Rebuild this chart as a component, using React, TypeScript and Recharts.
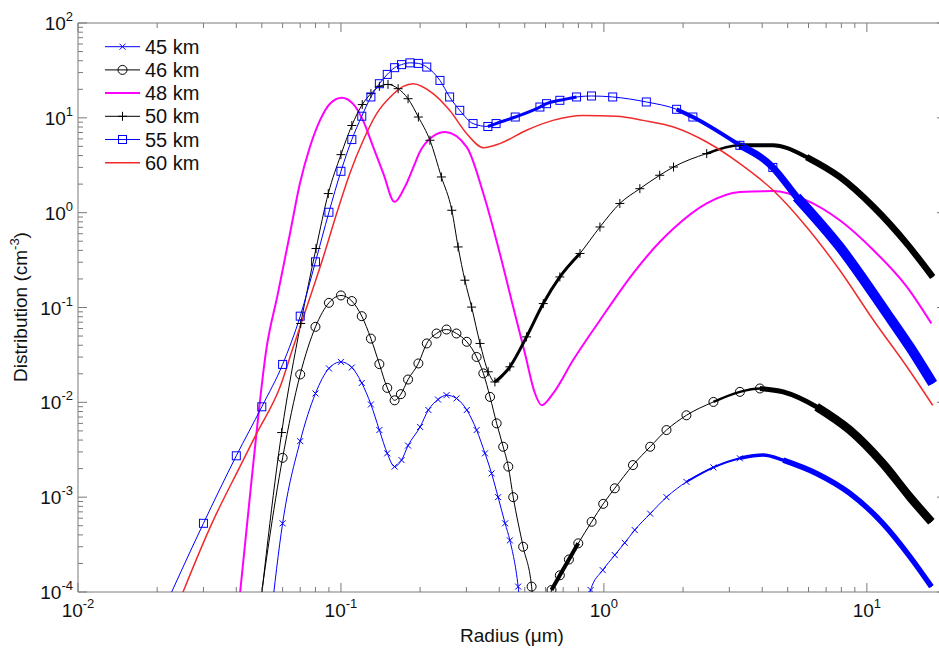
import React from 'react'
import { LineChart, Line, XAxis, YAxis, ReferenceArea, Legend, Label } from 'recharts'

// radius (um) / distribution (cm^-3), one pair of arrays per altitude
const R_45 = [0.054, 0.06, 0.07, 0.08, 0.09, 0.1, 0.11, 0.12, 0.13, 0.14, 0.15, 0.16, 0.17, 0.18, 0.2, 0.215, 0.234, 0.252, 0.275, 0.301, 0.328, 0.353, 0.374, 0.396, 0.421, 0.439, 0.472, 0.49, 0.85, 0.89, 0.99, 1.1, 1.2, 1.31, 1.5, 1.73, 2.06, 2.61, 3.29, 4.03, 4.81, 6.44, 8.61, 11.5, 14.6, 17.6]
const V_45 = [5e-5, 5.3e-4, 3.9e-3, 0.0124, 0.0228, 0.0267, 0.0233, 0.016, 9.5e-3, 5.1e-3, 2.9e-3, 2.1e-3, 2.46e-3, 3.5e-3, 5.5e-3, 8.3e-3, 0.0107, 0.0119, 0.011, 8.3e-3, 5.1e-3, 2.9e-3, 1.78e-3, 1.0e-3, 5.3e-4, 3.5e-4, 1.14e-4, 4e-5, 5e-5, 1.05e-4, 1.7e-4, 2.45e-4, 3.3e-4, 4.5e-4, 6.7e-4, 1.0e-3, 1.45e-3, 2.06e-3, 2.57e-3, 2.78e-3, 2.46e-3, 1.78e-3, 1.1e-3, 5.3e-4, 2.35e-4, 1.14e-4]

const R_46 = [0.047, 0.06, 0.07, 0.08, 0.09, 0.1, 0.11, 0.12, 0.13, 0.14, 0.15, 0.16, 0.169, 0.18, 0.197, 0.212, 0.231, 0.252, 0.275, 0.301, 0.328, 0.348, 0.369, 0.391, 0.414, 0.433, 0.452, 0.493, 0.531, 0.56, 0.6, 0.632, 0.68, 0.736, 0.799, 0.898, 0.994, 1.1, 1.29, 1.5, 1.73, 2.06, 2.61, 3.29, 3.92, 4.81, 6.44, 8.61, 11.5, 14.6, 17.6]
const V_46 = [3e-5, 2.6e-3, 0.0197, 0.0625, 0.112, 0.134, 0.117, 0.081, 0.047, 0.0253, 0.0142, 0.0105, 0.0122, 0.0174, 0.0257, 0.0418, 0.0532, 0.0586, 0.0532, 0.0435, 0.0301, 0.0202, 0.0114, 0.006, 0.0034, 0.0021, 0.001, 3e-4, 1.14e-4, 2e-5, 2e-5, 1.05e-4, 1.5e-4, 2.2e-4, 3.26e-4, 5.5e-4, 8.5e-4, 1.24e-3, 2.18e-3, 3.4e-3, 5.1e-3, 7.3e-3, 0.0101, 0.0129, 0.014, 0.0129, 8.97e-3, 5.1e-3, 2.27e-3, 1.0e-3, 5.5e-4]

const R_48 = [0.039, 0.0457, 0.0522, 0.0574, 0.064, 0.0698, 0.0762, 0.0832, 0.0908, 0.1007, 0.111, 0.1213, 0.1327, 0.145, 0.16, 0.175, 0.191, 0.198, 0.224, 0.249, 0.301, 0.348, 0.402, 0.452, 0.501, 0.547, 0.58, 0.641, 0.764, 0.966, 1.29, 1.63, 1.84, 2.46, 3.29, 4.4, 5.9, 7.89, 10.6, 14.2, 17.6]
const V_48 = [2e-5, 1.5e-3, 0.0385, 0.135, 0.603, 2.03, 4.92, 9.4, 14.1, 16.3, 14.1, 9.4, 4.92, 2.58, 1.3, 1.87, 3.29, 4.2, 6.4, 7.1, 4.92, 1.59, 0.371, 0.101, 0.0327, 0.0124, 9.3e-3, 0.0124, 0.0279, 0.0734, 0.228, 0.49, 0.68, 1.25, 1.65, 1.69, 1.35, 0.832, 0.402, 0.165, 0.0678]

const R_50 = [0.047, 0.0595, 0.0703, 0.0804, 0.0895, 0.1, 0.11, 0.1205, 0.13, 0.14, 0.151, 0.165, 0.18, 0.197, 0.218, 0.241, 0.264, 0.279, 0.296, 0.314, 0.338, 0.363, 0.385, 0.439, 0.508, 0.588, 0.68, 0.811, 0.966, 1.15, 1.37, 1.63, 1.84, 2.46, 3.29, 4.4, 5.9, 7.89, 10.6, 14.2, 17.8]
const V_50 = [2e-5, 4.8e-3, 0.0678, 0.419, 1.59, 4.09, 8.3, 13.8, 18, 21.5, 22.5, 20.3, 15.9, 10.2, 5.8, 2.38, 1.06, 0.435, 0.194, 0.101, 0.0418, 0.021, 0.0164, 0.0237, 0.049, 0.11, 0.21, 0.371, 0.706, 1.25, 1.79, 2.48, 3.03, 4.2, 5.13, 5.13, 3.86, 2.38, 1.15, 0.47, 0.21]

const R_55 = [0.02, 0.03, 0.04, 0.05, 0.06, 0.07, 0.08, 0.09, 0.1, 0.11, 0.12, 0.13, 0.14, 0.15, 0.16, 0.17, 0.183, 0.197, 0.212, 0.238, 0.259, 0.283, 0.318, 0.362, 0.389, 0.46, 0.571, 0.605, 0.68, 0.787, 0.897, 1.08, 1.45, 1.89, 2.18, 3.29, 4.39, 5.41, 7.89, 11.9, 14.6, 17.8]
const V_55 = [4.6e-5, 5.3e-4, 2.73e-3, 8.97e-3, 0.0251, 0.081, 0.303, 1.01, 2.73, 5.9, 10.4, 16.6, 22.9, 28.7, 33.8, 36.4, 38, 37.5, 34.3, 24.8, 16.6, 12, 8.7, 8.1, 8.7, 10.2, 13, 14.1, 15.3, 16.6, 17, 16.6, 14.7, 12.3, 10.2, 5.13, 3.0, 1.46, 0.435, 0.087, 0.038, 0.0158]

const R_60 = [0.022, 0.0327, 0.0413, 0.0478, 0.0587, 0.0659, 0.0741, 0.0857, 0.0963, 0.108, 0.1216, 0.1367, 0.154, 0.1726, 0.188, 0.224, 0.259, 0.301, 0.348, 0.402, 0.508, 0.64, 0.834, 1.12, 1.41, 1.84, 2.46, 3.29, 4.4, 5.9, 7.89, 10.6, 14.2, 17.8]
const V_60 = [4e-5, 5.7e-4, 2.1e-3, 4.7e-3, 0.0146, 0.0385, 0.101, 0.341, 0.98, 2.58, 5.8, 11.1, 16.6, 21.5, 22.9, 18, 12, 6.8, 4.85, 5.35, 7.4, 9.4, 10.6, 10.4, 9.4, 8.0, 5.56, 3.29, 1.72, 0.706, 0.247, 0.0734, 0.0237, 9.3e-3]

const X_MAJOR = [0.01, 0.1, 1, 10]
const X_MAJOR_EXP = ['-2', '-1', '0', '1']
const X_MINOR = [0.02, 0.03, 0.04, 0.05, 0.06, 0.07, 0.08, 0.09, 0.2, 0.3, 0.4, 0.5, 0.6, 0.7, 0.8, 0.9, 2, 3, 4, 5, 6, 7, 8, 9]
const Y_MAJOR = [1e-4, 1e-3, 1e-2, 1e-1, 1, 10, 100]
const Y_MAJOR_EXP = ['-4', '-3', '-2', '-1', '0', '1', '2']
const Y_MINOR = [
  2e-4, 3e-4, 4e-4, 5e-4, 6e-4, 7e-4, 8e-4, 9e-4,
  2e-3, 3e-3, 4e-3, 5e-3, 6e-3, 7e-3, 8e-3, 9e-3,
  0.02, 0.03, 0.04, 0.05, 0.06, 0.07, 0.08, 0.09,
  0.2, 0.3, 0.4, 0.5, 0.6, 0.7, 0.8, 0.9,
  2, 3, 4, 5, 6, 7, 8, 9,
  20, 30, 40, 50, 60, 70, 80, 90,
]

const PLOT_TOP = 23
const PLOT_BOTTOM = 592
const PLOT_LEFT = 78
const PLOT_RIGHT = 946
const AXIS = '#7a7a7a'
const FONT = '"Liberation Sans", Arial, Helvetica, sans-serif'
const BLUE = '#0000ff'
const BLACK = '#000000'
const MAGENTA = '#ff00ff'
const RED = '#f02a2a'

const toPoints = (r: number[], v: number[]) => r.map((x, i) => ({ r: x, v: v[i] }))

type Marker = 'x' | 'o' | '+' | 's' | null
type Band = { from: number; to: number; w: number }

// bands stand in for stretches where the original markers pile up into a solid trace
const SERIES: { name: string; data: { r: number; v: number }[]; color: string; width: number; marker: Marker; markerUntil: number; bands: Band[] }[] = [
  {
    name: '45 km', data: toPoints(R_45, V_45), color: BLUE, width: 1, marker: 'x', markerUntil: 3.5,
    bands: [{ from: 2.0, to: 99, w: 2 }, { from: 3.29, to: 99, w: 3.5 }, { from: 4.8, to: 99, w: 5.5 }],
  },
  {
    name: '46 km', data: toPoints(R_46, V_46), color: BLACK, width: 1, marker: 'o', markerUntil: 4.5,
    bands: [{ from: 0.63, to: 0.8, w: 4 }, { from: 2.6, to: 99, w: 2.5 }, { from: 3.9, to: 99, w: 5 }, { from: 6.4, to: 99, w: 8.5 }],
  },
  { name: '48 km', data: toPoints(R_48, V_48), color: MAGENTA, width: 2, marker: null, markerUntil: 0, bands: [] },
  {
    name: '50 km', data: toPoints(R_50, V_50), color: BLACK, width: 1, marker: '+', markerUntil: 4.4,
    bands: [{ from: 0.385, to: 0.82, w: 3 }, { from: 2.4, to: 99, w: 2.5 }, { from: 3.29, to: 99, w: 4 }, { from: 5.9, to: 99, w: 6.5 }],
  },
  {
    name: '55 km', data: toPoints(R_55, V_55), color: BLUE, width: 1, marker: 's', markerUntil: 5,
    bands: [{ from: 0.36, to: 0.8, w: 3 }, { from: 1.8, to: 99, w: 4 }, { from: 3.2, to: 99, w: 7 }, { from: 5.4, to: 99, w: 10 }],
  },
  { name: '60 km', data: toPoints(R_60, V_60), color: RED, width: 1.5, marker: null, markerUntil: 0, bands: [] },
]

function markerShape(kind: Marker, cx: number, cy: number, color: string, key: string) {
  if (kind === 'x')
    return <path key={key} d={`M${cx - 3},${cy - 3}L${cx + 3},${cy + 3}M${cx - 3},${cy + 3}L${cx + 3},${cy - 3}`} stroke={color} strokeWidth={1} fill="none" />
  if (kind === '+')
    return <path key={key} d={`M${cx - 4.5},${cy}H${cx + 4.5}M${cx},${cy - 4.5}V${cy + 4.5}`} stroke={color} strokeWidth={1} fill="none" />
  if (kind === 'o')
    return <circle key={key} cx={cx} cy={cy} r={4.5} stroke={color} strokeWidth={1} fill="none" />
  if (kind === 's')
    return <rect key={key} x={cx - 4} y={cy - 4} width={8} height={8} stroke={color} strokeWidth={1} fill="none" />
  return <g key={key} />
}

function majorIndex(list: number[], v: number) {
  return list.findIndex((m) => Math.abs(m - v) / m < 1e-6)
}

function XTick(props: any) {
  const { x, payload } = props
  const i = majorIndex(X_MAJOR, payload.value)
  const len = i >= 0 ? 9 : 5
  return (
    <g>
      <line x1={x} x2={x} y1={PLOT_BOTTOM} y2={PLOT_BOTTOM - len} stroke={AXIS} />
      <line x1={x} x2={x} y1={PLOT_TOP} y2={PLOT_TOP + len} stroke={AXIS} />
      {i >= 0 && (
        <text x={x} y={617} textAnchor="middle" fontSize={19} fontFamily={FONT} fill="#111">
          10<tspan dy={-9} fontSize={13}>{X_MAJOR_EXP[i]}</tspan>
        </text>
      )}
    </g>
  )
}

function YTick(props: any) {
  const { y, payload } = props
  const i = majorIndex(Y_MAJOR, payload.value)
  const len = i >= 0 ? 9 : 5
  return (
    <g>
      <line x1={PLOT_LEFT} x2={PLOT_LEFT + len} y1={y} y2={y} stroke={AXIS} />
      <line x1={PLOT_RIGHT} x2={PLOT_RIGHT - len} y1={y} y2={y} stroke={AXIS} />
      {i >= 0 && (
        <text x={73} y={y + 7} textAnchor="end" fontSize={19} fontFamily={FONT} fill="#111">
          10<tspan dy={-9} fontSize={13}>{Y_MAJOR_EXP[i]}</tspan>
        </text>
      )}
    </g>
  )
}

function LegendBox() {
  return (
    <svg width={140} height={150}>
      {SERIES.map((s, i) => {
        const y = 16.7 + i * 23.2
        return (
          <g key={s.name}>
            <line x1={5} x2={40} y1={y} y2={y} stroke={s.color} strokeWidth={s.width} />
            {markerShape(s.marker, 22.5, y, s.color, 'lm' + i)}
            <text x={45} y={y + 7} fontSize={20} fontFamily={FONT} fill="#111">{s.name}</text>
          </g>
        )
      })}
    </svg>
  )
}

export default function App() {
  return (
    <div style={{ position: 'absolute', left: 0, top: 0, width: 939, height: 648, overflow: 'hidden', background: '#fff' }}>
      <LineChart width={960} height={648} margin={{ top: PLOT_TOP, right: 14, left: 0, bottom: 0 }}>
        <XAxis
          dataKey="r"
          type="number"
          scale="log"
          domain={[0.01, 20]}
          allowDataOverflow
          ticks={[...X_MAJOR, ...X_MINOR]}
          interval={0}
          height={56}
          axisLine={false}
          tickLine={false}
          tick={<XTick />}
        >
          <Label
            content={() => (
              <text x={512} y={642} textAnchor="middle" fontSize={19} fontFamily={FONT} fill="#111">
                Radius (μm)
              </text>
            )}
          />
        </XAxis>
        <YAxis
          type="number"
          scale="log"
          domain={[1e-4, 100]}
          allowDataOverflow
          ticks={[...Y_MAJOR, ...Y_MINOR]}
          interval={0}
          width={PLOT_LEFT}
          axisLine={false}
          tickLine={false}
          tick={<YTick />}
        >
          <Label
            content={() => (
              <text x={27} y={307} transform="rotate(-90 27 307)" textAnchor="middle" fontSize={19} fontFamily={FONT} fill="#111">
                Distribution (cm<tspan dy={-8} fontSize={13}>-3</tspan><tspan dy={8}>)</tspan>
              </text>
            )}
          />
        </YAxis>
        <ReferenceArea x1={0.01} x2={20} y1={1e-4} y2={100} fill="none" stroke={AXIS} strokeWidth={1} />
        {SERIES.flatMap((s) => {
          const lines = s.bands.map((b, bi) => (
            <Line
              key={s.name + '-band' + bi}
              data={s.data.filter((p) => p.r >= b.from && p.r <= b.to)}
              dataKey="v"
              type="monotone"
              stroke={s.color}
              strokeWidth={b.w}
              dot={false}
              activeDot={false}
              legendType="none"
              isAnimationActive={false}
            />
          ))
          lines.push(
            <Line
              key={s.name}
              name={s.name}
              data={s.data}
              dataKey="v"
              type="monotone"
              stroke={s.color}
              strokeWidth={s.width}
              dot={(p: any) => {
                const key = s.name + '-d' + p.index
                if (!s.marker || p.cx == null || p.cy == null) return <g key={key} />
                if (p.payload && p.payload.r >= s.markerUntil) return <g key={key} />
                return markerShape(s.marker, p.cx, p.cy, s.color, key)
              }}
              activeDot={false}
              isAnimationActive={false}
            />
          )
          return lines
        })}
        <Legend
          layout="horizontal"
          verticalAlign="middle"
          align="center"
          content={() => <LegendBox />}
          wrapperStyle={{ left: 100, top: 30, width: 140, height: 150 }}
        />
      </LineChart>
    </div>
  )
}
